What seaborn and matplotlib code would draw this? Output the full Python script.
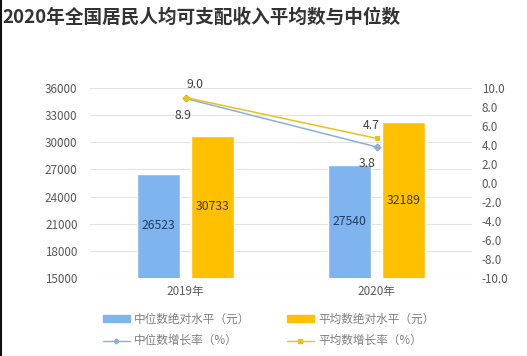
import numpy as np
import pandas as pd
import matplotlib
matplotlib.use('Agg')
import matplotlib.pyplot as plt
import seaborn as sns
from matplotlib.lines import Line2D
from matplotlib.patches import Patch

# data
years = ['2019年', '2020年']
median_level = [26523, 27540]
mean_level = [30733, 32189]
median_growth = [8.9, 3.8]
mean_growth = [9.0, 4.7]

bar_names = ['中位数绝对水平（元）', '平均数绝对水平（元）']
line_names = ['中位数增长率（%）', '平均数增长率（%）']
title = '2020年全国居民人均可支配收入平均数与中位数'

left_ticks = np.arange(15000, 36001, 3000)
right_ticks = np.arange(-10, 10.1, 2)

sns.set_theme(style='white')
plt.rcParams['font.family'] = ['Noto Sans CJK SC', 'DejaVu Sans']

blue = '#80B4EE'
gold = '#FFC000'
line_blue = '#8DB0D6'
line_gold = '#EBC21A'
grey = '#595959'

bars = pd.DataFrame({
    'year': years * 2,
    'value': median_level + mean_level,
    'series': [bar_names[0]] * 2 + [bar_names[1]] * 2,
})
lines = pd.DataFrame({
    'year': years * 2,
    'value': median_growth + mean_growth,
    'series': [line_names[0]] * 2 + [line_names[1]] * 2,
})

fig = plt.figure(figsize=(5.27, 3.56), dpi=100)
ax = fig.add_axes([0.1708, 0.2191, 0.7249, 0.5337])

sns.barplot(data=bars, x='year', y='value', hue='series',
            palette=[blue, gold], saturation=1, width=0.566, gap=0.22,
            legend=False, ax=ax)
ax.set_ylim(15000, 36000)
ax.set_yticks(left_ticks)
ax.set_xlim(-0.5, 1.5)
ax.grid(axis='y', color='#E3E3E3', linewidth=0.8)
ax.set_axisbelow(True)
ax.set_xlabel('')
ax.set_ylabel('')
for s in ax.spines.values():
    s.set_visible(False)
ax.tick_params(axis='both', length=0, labelsize=8.4, colors=grey, pad=9)
ax.tick_params(axis='x', pad=5)

label_colors = ['#1F3A66', '#4A3500']
for cont, c in zip(ax.containers, label_colors):
    ax.bar_label(cont, label_type='center', fontsize=8.8, color=c)

ax2 = ax.twinx()
sns.pointplot(data=lines, x='year', y='value', hue='series',
              palette=[line_blue, line_gold], markers=['D', 's'],
              markersize=3.5, linewidth=1.1, dodge=False,
              legend=False, ax=ax2)
ax2.set_ylim(-10, 10)
ax2.set_yticks(right_ticks)
ax2.set_yticklabels([f'{t:.1f}' for t in right_ticks])
ax2.set_xlim(-0.5, 1.5)
ax2.set_ylabel('')
for s in ax2.spines.values():
    s.set_visible(False)
ax2.tick_params(axis='y', length=0, labelsize=8.4, colors=grey, pad=7)
ax2.grid(False)

# value labels on the lines: median below, mean above
for i, v in enumerate(median_growth):
    dx = [-2, -7][i]
    ax2.annotate(f'{v:.1f}', (i, v), xytext=(dx, -12), textcoords='offset points',
                 ha='center', va='center', fontsize=8.8, color='#404040')
for i, v in enumerate(mean_growth):
    dx = [7, -4][i]
    ax2.annotate(f'{v:.1f}', (i, v), xytext=(dx, 9.5), textcoords='offset points',
                 ha='center', va='center', fontsize=8.8, color='#404040')

handles = [
    Patch(color=blue, label=bar_names[0]),
    Line2D([], [], color=line_blue, marker='D', markersize=2.5, linewidth=1, label=line_names[0]),
    Patch(color=gold, label=bar_names[1]),
    Line2D([], [], color=line_gold, marker='s', markersize=3.5, linewidth=1, label=line_names[1]),
]
fig.legend(handles=handles, ncol=2, loc='upper left', bbox_to_anchor=(0.195, 0.122),
           frameon=False, fontsize=8.4, labelcolor='#7F7F7F',
           handlelength=2.3, handleheight=0.5, columnspacing=3.1,
           handletextpad=0.4, labelspacing=0.75, borderaxespad=0, borderpad=0)

fig.text(0.004, 0.952, title, fontsize=13.4, fontweight='bold', color='#333333',
         ha='left', va='center')
fig.add_artist(Line2D([0.0015, 0.0015], [0, 1], color='#111111', linewidth=1.5,
                      transform=fig.transFigure))

fig.savefig('out.png', dpi=100)
